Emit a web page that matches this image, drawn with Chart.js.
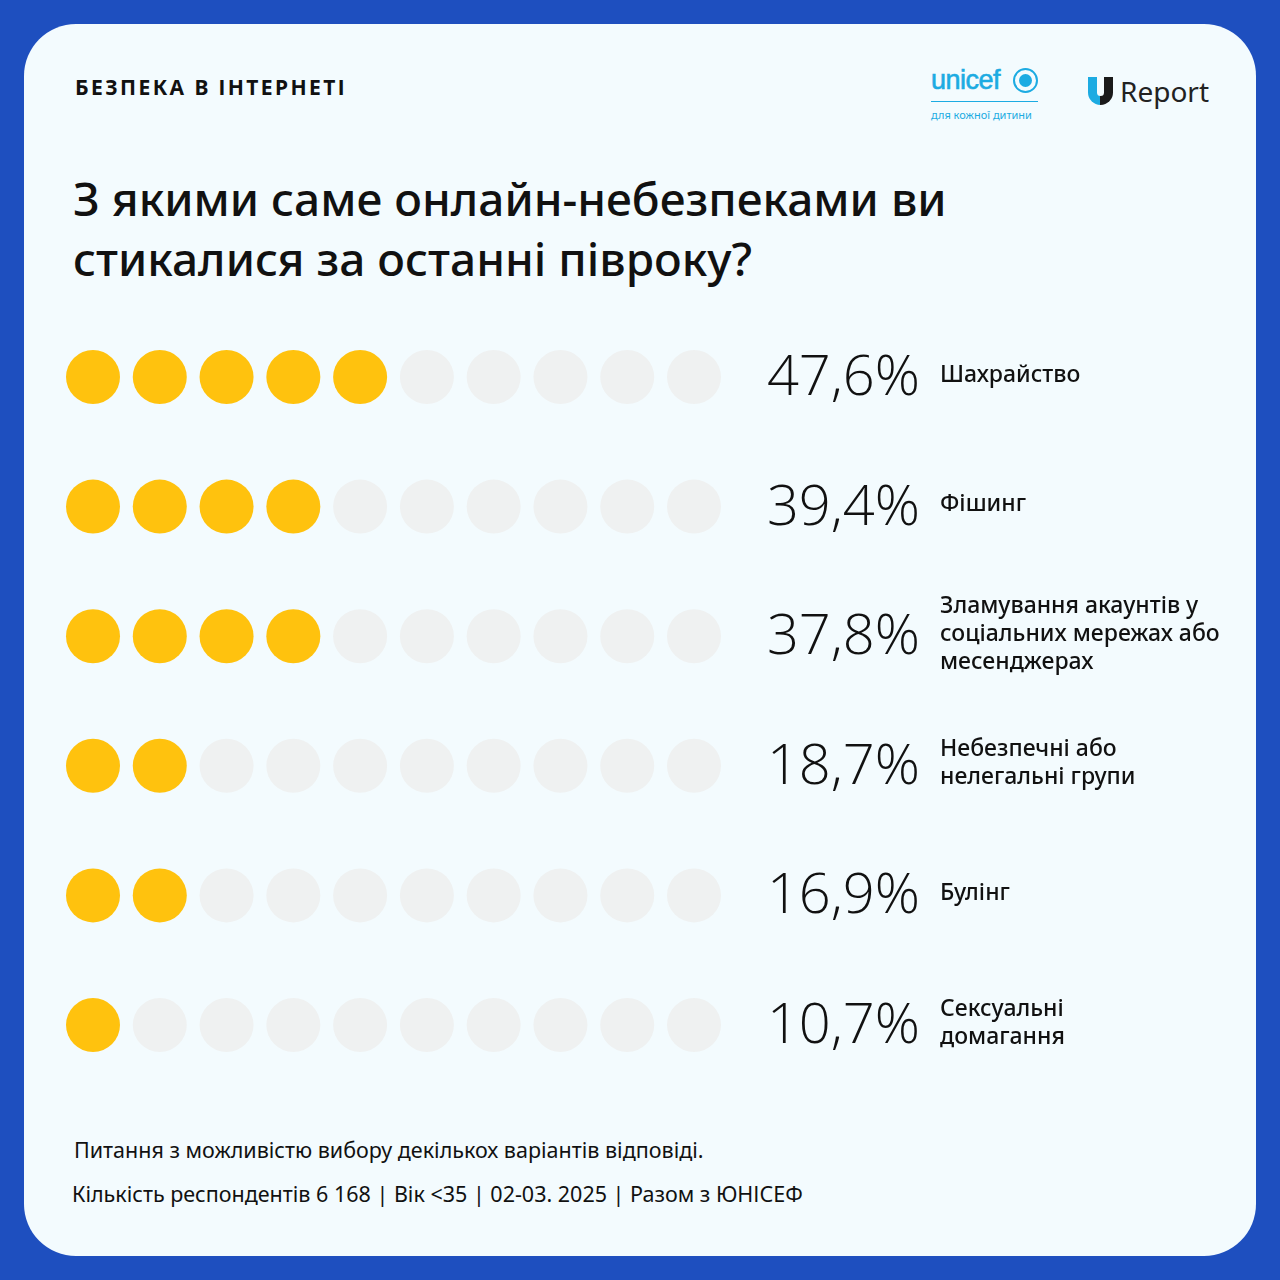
<!DOCTYPE html>
<html lang="uk">
<head>
<meta charset="utf-8">
<script src="https://cdn.jsdelivr.net/npm/chart.js@4.4.1/dist/chart.umd.min.js"></script>
<style>
	html, body { margin: 0; padding: 0; }
	body { width: 1280px; height: 1280px; background: #1e4fbf; font-family: "Noto Sans", sans-serif; position: relative; overflow: hidden; }
	.card { position: absolute; left: 24px; top: 24px; width: 1232px; height: 1232px; background: #f3fbfe; border-radius: 52px; }
	.kicker { position: absolute; left: 75px; top: 73px; font-size: 21px; font-weight: 700; letter-spacing: 2.4px; color: #111; }
	.title { position: absolute; left: 73px; top: 168px; font-size: 46px; font-weight: 500; line-height: 60px; color: #111; }
	.note { position: absolute; left: 74px; font-size: 21.5px; color: #111; }
	#canvas { position: absolute; left: 0; top: 310px; }
	.unicef { position: absolute; left: 931px; top: 64px; color: #1cabe2; }
	.unicef .word { font-size: 27px; font-family: "Liberation Sans", sans-serif; letter-spacing: -0.5px; line-height: 32px; -webkit-text-stroke: 0.6px #1cabe2; }
	.unicef .globe { position: absolute; left: 82px; top: 4px; width: 25px; height: 25px; border-radius: 50%; border: 2px solid #1cabe2; box-sizing: border-box; }
	.unicef .globe::after { content: ""; position: absolute; left: 4px; top: 4px; width: 13px; height: 13px; border-radius: 50%; background: #1cabe2; }
	.unicef .rule { position: absolute; left: 0; top: 37px; width: 107px; height: 1px; background: #1cabe2; }
	.unicef .sub { position: absolute; left: 0; top: 43px; font-size: 11px; white-space: nowrap; }
	.ureport { position: absolute; left: 1088px; top: 76px; }
	.ureport .u { position: absolute; left: 0; top: 1px; width: 25px; height: 28px; border-radius: 0 0 13px 13px; background: linear-gradient(90deg, #1cabe2 50%, #1a1a1a 50%); }
	.ureport .u::after { content: ""; position: absolute; left: 9px; top: 0; width: 7px; height: 19px; border-radius: 0 0 4px 4px; background: #f3fbfe; }
	.ureport .word { position: absolute; left: 32px; top: -4px; font-size: 28px; color: #222; white-space: nowrap; }
</style>
</head>
<body>
<div class="card"></div>
<div class="kicker">БЕЗПЕКА В ІНТЕРНЕТІ</div>
<div class="unicef">
	<div class="word">unicef</div>
	<div class="globe"></div>
	<div class="rule"></div>
	<div class="sub">для кожної дитини</div>
</div>
<div class="ureport">
	<div class="u"></div>
	<div class="word">Report</div>
</div>
<div class="title">З якими саме онлайн-небезпеками ви<br>стикалися за останні півроку?</div>
<canvas id="canvas" width="1280" height="780"></canvas>
<div class="note" style="top:1135px">Питання з можливістю вибору декількох варіантів відповіді.</div>
<div class="note" style="top:1179px; left:72px">Кількість респондентів 6 168 | Вік &lt;35 | 02-03. 2025 | Разом з ЮНІСЕФ</div>

<script>
const categories = [
	["Шахрайство"],
	["Фішинг"],
	["Зламування акаунтів у", "соціальних мережах або", "месенджерах"],
	["Небезпечні або", "нелегальні групи"],
	["Булінг"],
	["Сексуальні", "домагання"],
];
const percentages = [47.6, 39.4, 37.8, 18.7, 16.9, 10.7];
const filledDots = [5, 4, 4, 2, 2, 1];
const dotsPerRow = 10;

window.onload = () => {
	const ctx = document.getElementById("canvas").getContext("2d");

	const filled = [];
	const empty = [];
	categories.forEach((cat, row) => {
		for (let i = 0; i < dotsPerRow; i++) {
			(i < filledDots[row] ? filled : empty).push({ x: i, y: row });
		}
	});

	const rowLabels = {
		id: "rowLabels",
		afterDatasetsDraw(chart) {
			const c = chart.ctx;
			const yScale = chart.scales.y;
			c.save();
			c.fillStyle = "#111";
			c.textBaseline = "middle";
			categories.forEach((lines, row) => {
				const y = yScale.getPixelForValue(row);
				c.font = "300 56px 'Open Sans', sans-serif";
				c.textAlign = "right";
				c.fillText(percentages[row].toFixed(1).replace(".", ",") + "%", 920, y + 2);
				c.font = "500 23px 'Noto Sans', sans-serif";
				c.textAlign = "left";
				const lh = 28;
				const top = y - (lines.length - 1) * lh / 2;
				lines.forEach((t, k) => c.fillText(t, 940, top + k * lh - 2));
			});
			c.restore();
		},
	};

	new Chart(ctx, {
		type: "scatter",
		data: {
			datasets: [
				{ data: empty, backgroundColor: "#eff1f1", borderWidth: 0, pointRadius: 27, pointHoverRadius: 27, clip: false },
				{ data: filled, backgroundColor: "#ffc20e", borderWidth: 0, pointRadius: 27, pointHoverRadius: 27, clip: false },
			],
		},
		options: {
			responsive: false,
			animation: false,
			events: [],
			layout: { padding: { left: 93, right: 586, top: 67, bottom: 65 } },
			plugins: { legend: { display: false }, tooltip: { enabled: false } },
			scales: {
				x: { type: "linear", min: 0, max: dotsPerRow - 1, display: false },
				y: { type: "linear", min: 0, max: categories.length - 1, reverse: true, display: false },
			},
		},
		plugins: [rowLabels],
	});
};
</script>
</body>
</html>
